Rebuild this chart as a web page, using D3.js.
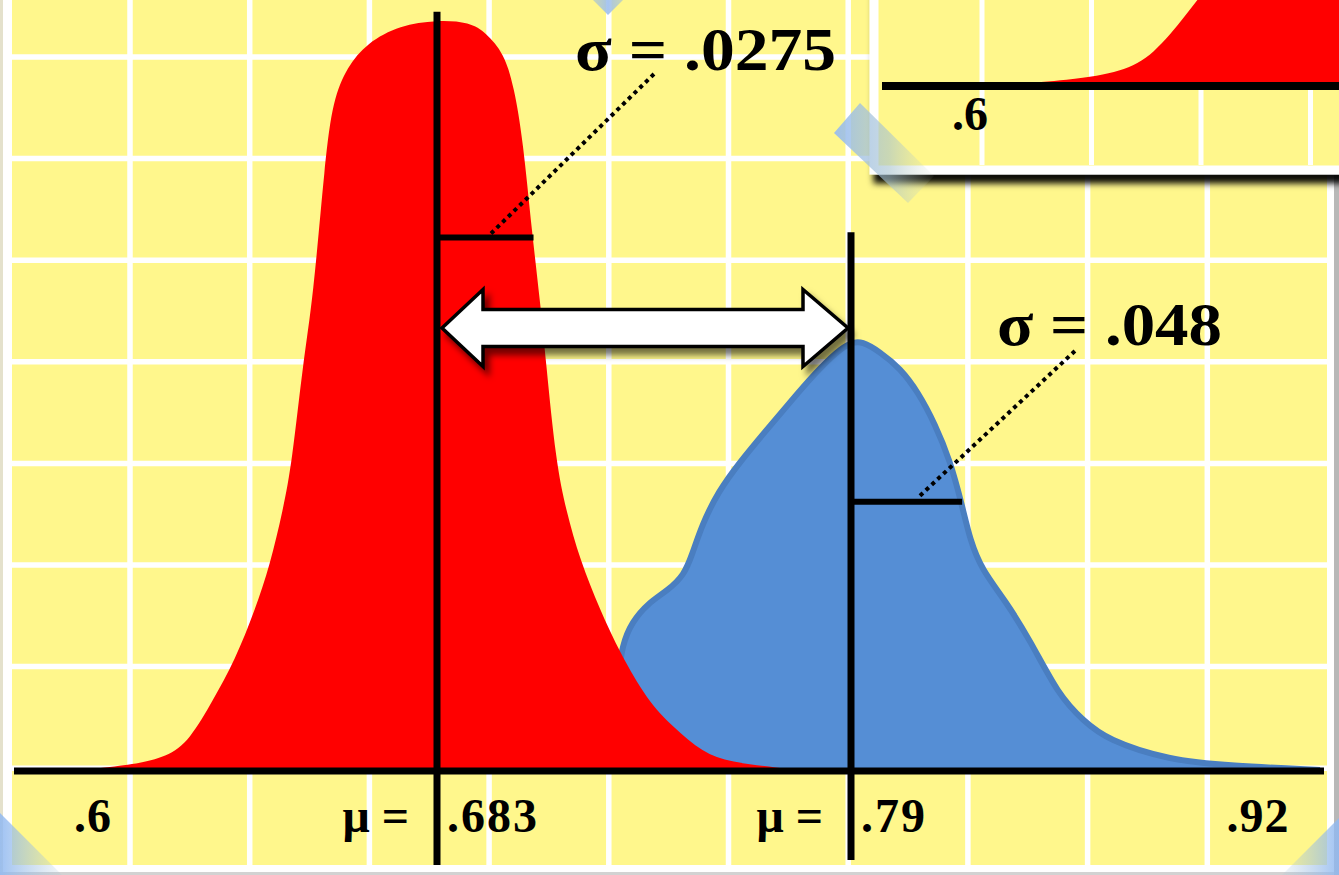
<!DOCTYPE html>
<html><head><meta charset="utf-8">
<script src="https://cdn.jsdelivr.net/npm/d3@7"></script>
<style>html,body{margin:0;padding:0;background:#fff;overflow:hidden}</style>
</head><body>
<svg id="c" width="1339" height="875"></svg>
<script>
// ---------- data ----------
const tickValues = [0.6, 0.683, 0.79, 0.92];
const tickLabels = ['.6', '.683', '.79', '.92'];
const means = [0.683, 0.79];
const sigmas = [0.0275, 0.048];
const sigmaLabels = ['σ = .0275', 'σ = .048'];
// density heights (skewed, hand-drawn shapes)
const redX = [0.5937, 0.60965, 0.61785, 0.6234, 0.62895, 0.63426, 0.63909, 0.64271, 0.64584, 0.64801,
  0.65067, 0.65308, 0.65598, 0.65791, 0.66128, 0.66611, 0.67407, 0.683, 0.69153, 0.69566,
  0.70032, 0.7029, 0.70523, 0.70755, 0.70962, 0.71117, 0.71376, 0.71634, 0.71996, 0.72513,
  0.7303, 0.73727, 0.74399, 0.75175, 0.75873, 0.77165, 0.77759];
const redD = [0, 0.116, 0.27, 0.60, 1.37, 2.14, 3.11, 3.98, 5.04, 5.95,
  7.90, 9.09, 11.80, 12.96, 13.59, 14.06, 14.40, 14.50, 14.46, 14.25,
  13.86, 13.21, 12.18, 10.39, 9.09, 7.90, 5.95, 5.04, 4.07, 3.11,
  2.28, 1.37, 0.85, 0.35, 0.17, 0.06, 0];
const blueX = [0.72823, 0.72978, 0.73081, 0.7334, 0.73753, 0.7427, 0.74684, 0.7489, 0.75149, 0.75562,
  0.76131, 0.76777, 0.77423, 0.78069, 0.78664, 0.79, 0.79351, 0.79926, 0.80565, 0.8114,
  0.81683, 0.82162, 0.82545, 0.82801, 0.83184, 0.83919, 0.84717, 0.85644, 0.8641, 0.87177,
  0.89157, 0.91106, 0.9398];
const blueD = [0, 1.76, 2.43, 2.88, 3.24, 3.49, 3.78, 4.17, 4.75, 5.39,
  5.97, 6.55, 7.12, 7.68, 8.12, 8.27, 8.30, 8.09, 7.78, 7.32,
  6.70, 6.00, 5.14, 4.46, 3.88, 3.30, 2.53, 1.45, 0.98, 0.60,
  0.21, 0.10, 0.02];
const sigmaLevels = [10.3, 5.2];
const insetTicks = [0.6];
const insetLabels = ['.6'];

// ---------- setup ----------
const W = 1339, H = 875;
const svg = d3.select('#c');
const FONT = '"Liberation Serif", "Times New Roman", serif';
const YELLOW = '#fff78c';

const x = d3.scaleLinear().domain(tickValues).range([93, 437, 851, 1258]);
const y = d3.scaleLinear().domain([0, 14.5]).range([771, 20]);

const defs = svg.append('defs');
const sh = defs.append('filter').attr('id', 'arrowShadow').attr('x', '-10%').attr('y', '-50%').attr('width', '130%').attr('height', '220%');
sh.append('feDropShadow').attr('dx', 5).attr('dy', 7).attr('stdDeviation', 3).attr('flood-color', '#000').attr('flood-opacity', 0.55);
const sh2 = defs.append('filter').attr('id', 'insetShadow').attr('x', '-10%').attr('y', '-10%').attr('width', '130%').attr('height', '140%');
sh2.append('feDropShadow').attr('dx', 4).attr('dy', 9).attr('stdDeviation', 3).attr('flood-color', '#000').attr('flood-opacity', 0.95);
function grad(id, x1, y1, x2, y2, stops) {
  const g = defs.append('linearGradient').attr('id', id).attr('x1', x1).attr('y1', y1).attr('x2', x2).attr('y2', y2);
  stops.forEach(s => g.append('stop').attr('offset', s[0]).attr('stop-color', s[1]).attr('stop-opacity', s[2]));
}
grad('decoL', '0', '0', '1', '0', [[0, '#8fb8f2', 0.85], [1, '#a8c4d8', 0.15]]);
grad('decoR', '1', '0', '0', '0', [[0, '#8fb8f2', 0.85], [1, '#a8c4d8', 0.15]]);
grad('decoD', '0', '0', '1', '0', [[0, '#94baf4', 0.9], [0.55, '#a6c2d0', 0.6], [1, '#c0d0c0', 0.05]]);
grad('decoT', '0', '0', '1', '0', [[0, '#b0c8c8', 0.7], [0.5, '#9cbef0', 0.9], [1, '#b0c8c8', 0.7]]);
defs.append('clipPath').attr('id', 'insetClip').append('rect').attr('x', 879).attr('y', 0).attr('width', 460).attr('height', 165);

// ---------- background & grid ----------
svg.append('rect').attr('width', W).attr('height', H).attr('fill', '#fff');
svg.append('rect').attr('x', 12).attr('y', 0).attr('width', 1315).attr('height', 865).attr('fill', YELLOW);
const grid = svg.append('g').attr('stroke', '#fff').attr('stroke-width', 5.5);
grid.selectAll('.gv').data(d3.range(10)).join('line')
  .attr('x1', i => 130 + 119.7 * i).attr('x2', i => 130 + 119.7 * i).attr('y1', 0).attr('y2', 865);
grid.selectAll('.gh').data(d3.range(8)).join('line')
  .attr('y1', j => 57 + 101.6 * j).attr('y2', j => 57 + 101.6 * j).attr('x1', 12).attr('x2', 1327);
svg.append('rect').attr('x', 0).attr('y', 0).attr('width', 3).attr('height', H).attr('fill', '#e4e1cc');
svg.append('rect').attr('x', 0).attr('y', 872).attr('width', W).attr('height', 3).attr('fill', '#d2d2d2');
svg.append('rect').attr('x', 1334).attr('y', 0).attr('width', 5).attr('height', H).attr('fill', '#b8b8b8');

// ---------- curves ----------
const redData = redX.map((v, i) => [v, redD[i]]);
const blueData = blueX.map((v, i) => [v, blueD[i]]);
const area = d3.area().x(d => x(d[0])).y0(y(0)).y1(d => y(d[1])).curve(d3.curveBasis);
const line = d3.line().x(d => x(d[0])).y(d => y(d[1])).curve(d3.curveBasis);

svg.append('path').datum(blueData).attr('d', area).attr('fill', '#558ed5');
svg.append('path').datum(blueData).attr('d', line).attr('fill', 'none').attr('stroke', '#4a7ec0').attr('stroke-width', 6).attr('stroke-linejoin', 'round');
svg.append('path').datum(redData).attr('d', area).attr('fill', '#ff0000');

// axis line
svg.append('line').attr('x1', 14).attr('x2', 1324).attr('y1', y(0)).attr('y2', y(0)).attr('stroke', '#000').attr('stroke-width', 7);

// mean lines
const meanTop = [y(14.66), y(10.4)];
const meanBottom = [865, 860];
svg.selectAll('.mean').data(means).join('line')
  .attr('x1', d => x(d)).attr('x2', d => x(d))
  .attr('y1', (d, i) => meanTop[i]).attr('y2', (d, i) => meanBottom[i])
  .attr('stroke', '#000').attr('stroke-width', 7);

// sigma lines: from mean to the right edge of the curve at the given level
function rightCrossing(data, level) {
  const iMax = d3.maxIndex(data, d => d[1]);
  for (let i = iMax; i < data.length - 1; i++) {
    const a = data[i], b = data[i + 1];
    if (a[1] >= level && b[1] <= level) {
      const t = (a[1] - level) / (a[1] - b[1]);
      return x(a[0] + t * (b[0] - a[0]));
    }
  }
  return x(data[data.length - 1][0]);
}
const curves = [redData, blueData];
const sigEnds = curves.map((c, i) => rightCrossing(c, sigmaLevels[i]) + 1);
svg.selectAll('.sig').data(means).join('line')
  .attr('x1', d => x(d)).attr('x2', (d, i) => sigEnds[i])
  .attr('y1', (d, i) => y(sigmaLevels[i])).attr('y2', (d, i) => y(sigmaLevels[i]))
  .attr('stroke', '#000').attr('stroke-width', 6);

// sigma labels and dotted leaders
const labelPos = [[575, 70], [997, 345]];
const labelLen = [261, 225];
svg.selectAll('.sigLab').data(sigmaLabels).join('text')
  .attr('x', (d, i) => labelPos[i][0]).attr('y', (d, i) => labelPos[i][1])
  .attr('textLength', (d, i) => labelLen[i]).attr('lengthAdjust', 'spacingAndGlyphs')
  .attr('font-family', FONT).attr('font-weight', 'bold').attr('font-size', 62).attr('fill', '#000')
  .text(d => d);
const leaderStart = [[491, y(sigmaLevels[0]) - 4], [920, y(sigmaLevels[1]) - 6]];
const leaderEnd = [[654, 74], [1077, 349]];
svg.selectAll('.lead').data(means).join('line')
  .attr('x1', (d, i) => leaderStart[i][0]).attr('y1', (d, i) => leaderStart[i][1])
  .attr('x2', (d, i) => leaderEnd[i][0]).attr('y2', (d, i) => leaderEnd[i][1])
  .attr('stroke', '#000').attr('stroke-width', 4).attr('stroke-dasharray', '4 4');

// double arrow between the means
const xl = x(means[0]) + 5, xr = x(means[1]) - 3, yc = 328;
const hb = 41, hh = 38.5, sw = 18.5;
const arrowPts = [[xl, yc], [xl + hb, yc - hh], [xl + hb, yc - sw], [xr - hb - 4, yc - sw], [xr - hb - 4, yc - hh], [xr, yc],
  [xr - hb - 4, yc + hh], [xr - hb - 4, yc + sw], [xl + hb, yc + sw], [xl + hb, yc + hh]];
svg.append('path').attr('d', d3.line()(arrowPts) + 'Z')
  .attr('fill', '#fff').attr('stroke', '#000').attr('stroke-width', 3.5).attr('stroke-linejoin', 'miter')
  .attr('filter', 'url(#arrowShadow)');

// bottom tick labels
const tickG = svg.append('g').attr('font-family', FONT).attr('font-weight', 'bold').attr('font-size', 48).attr('fill', '#000');
tickG.selectAll('.tl').data(tickValues).join('text')
  .attr('x', d => means.includes(d) ? x(d) + 10 : x(d))
  .attr('y', 832)
  .attr('text-anchor', d => means.includes(d) ? 'start' : 'middle')
  .attr('letter-spacing', d => means.includes(d) ? 2 : 1)
  .text((d, i) => tickLabels[i]);
tickG.selectAll('.mu').data(means).join('text')
  .attr('x', d => x(d) - 28).attr('y', 832).attr('text-anchor', 'end')
  .text('μ =');

// ---------- inset (top right) ----------
const ix = d3.scaleLinear().domain([0.6, 0.64]).range([1018, 1250]);
const iy = d3.scaleLinear().domain([0, 14.5]).range([86, 86 - 751]);
const inset = svg.append('g');
inset.append('rect').attr('x', 874).attr('y', -20).attr('width', 480).attr('height', 190)
  .attr('fill', YELLOW).attr('stroke', '#fff').attr('stroke-width', 9).attr('filter', 'url(#insetShadow)');
const ig = inset.append('g').attr('clip-path', 'url(#insetClip)');
ig.selectAll('.igv').data(d3.range(4)).join('line')
  .attr('x1', i => 982 + 109.5 * i).attr('x2', i => 982 + 109.5 * i).attr('y1', 0).attr('y2', 166)
  .attr('stroke', '#fff').attr('stroke-width', 5);
ig.append('path').datum(redData.filter(d => d[0] < 0.66))
  .attr('d', d3.area().x(d => ix(d[0])).y0(iy(0)).y1(d => iy(d[1])).curve(d3.curveBasis))
  .attr('fill', '#ff0000');
ig.append('rect').attr('x', ix(0.645)).attr('y', 0).attr('width', 400).attr('height', iy(0)).attr('fill', '#ff0000');
ig.append('line').attr('x1', 882).attr('x2', 1339).attr('y1', iy(0)).attr('y2', iy(0)).attr('stroke', '#000').attr('stroke-width', 8);
ig.selectAll('.itl').data(insetTicks).join('text')
  .attr('x', d => ix(d) - 48).attr('y', 130).attr('text-anchor', 'middle')
  .attr('font-family', FONT).attr('font-weight', 'bold').attr('font-size', 48).attr('fill', '#000')
  .text((d, i) => insetLabels[i]);

// ---------- decorative slide corner shapes ----------
svg.append('polygon').attr('points', '593,0 623,0 608,15').attr('fill', 'url(#decoT)');
svg.append('polygon').attr('points', '860,103 834,133 908,203 934,176').attr('fill', 'url(#decoD)');
svg.append('polygon').attr('points', '0,813 62,875 0,875').attr('fill', 'url(#decoL)');
svg.append('polygon').attr('points', '1339,818 1339,875 1282,875').attr('fill', 'url(#decoR)');
</script>
</body></html>
